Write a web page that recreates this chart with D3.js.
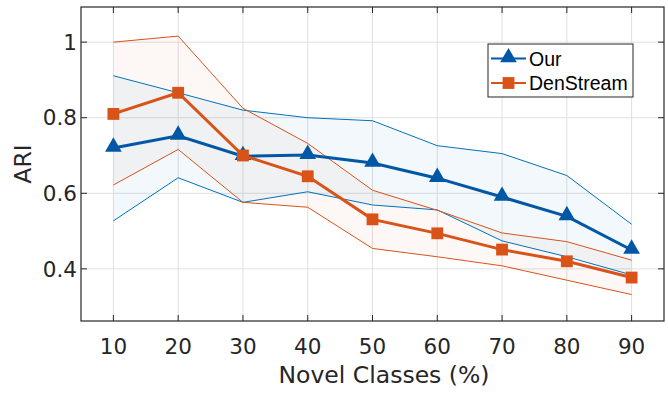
<!DOCTYPE html>
<html>
<head>
<meta charset="utf-8">
<script src="https://cdn.jsdelivr.net/npm/d3@7"></script>
<style>
  body { margin: 0; background: #fff; }
  svg text { fill: #262626; }
</style>
</head>
<body>
<div id="chart"></div>
<script>
// data
const classes = [10, 20, 30, 40, 50, 60, 70, 80, 90];
const ourMean = [0.720, 0.752, 0.698, 0.701, 0.680, 0.640, 0.590, 0.539, 0.450];
const ourUpper = [0.911, 0.866, 0.820, 0.800, 0.792, 0.726, 0.705, 0.647, 0.518];
const ourLower = [0.527, 0.641, 0.576, 0.604, 0.569, 0.556, 0.474, 0.432, 0.384];
const denMean = [0.810, 0.866, 0.700, 0.645, 0.531, 0.494, 0.451, 0.420, 0.377];
const denUpper = [1.000, 1.016, 0.825, 0.732, 0.608, 0.555, 0.495, 0.472, 0.423];
const denLower = [0.622, 0.716, 0.576, 0.563, 0.454, 0.432, 0.408, 0.370, 0.332];
const xTicks = [10, 20, 30, 40, 50, 60, 70, 80, 90];
const yTicks = [0.4, 0.6, 0.8, 1];

const W = 668, H = 393;
const margin = {top: 7, right: 4, bottom: 72, left: 81};
const width = W - margin.left - margin.right,
	height = H - margin.top - margin.bottom;

const svg = d3.select("#chart").append("svg")
	.attr("width", W).attr("height", H);
const g = svg.append("g")
	.attr("transform", "translate(" + margin.left + "," + margin.top + ")");

const x = d3.scaleLinear().domain([5, 95]).range([0, width]);
const y = d3.scaleLinear().domain([0.262, 1.093]).range([height, 0]);

const blue = "#0072BD", blueDark = "#0057A6", orange = "#D95319";

// grid
g.append("g").selectAll("line").data(xTicks).join("line")
	.attr("x1", d => x(d)).attr("x2", d => x(d))
	.attr("y1", 0).attr("y2", height)
	.attr("stroke", "#e0e0e0").attr("stroke-width", 1);
g.append("g").selectAll("line").data(yTicks).join("line")
	.attr("y1", d => y(d)).attr("y2", d => y(d))
	.attr("x1", 0).attr("x2", width)
	.attr("stroke", "#e0e0e0").attr("stroke-width", 1);

const band = (up, lo) => d3.area()
	.x((d, i) => x(classes[i]))
	.y0((d, i) => y(lo[i]))
	.y1((d, i) => y(up[i]));
const line = d3.line().x((d, i) => x(classes[i])).y(d => y(d));

// shaded ranges
g.append("path").datum(ourUpper).attr("d", band(ourUpper, ourLower))
	.attr("fill", blue).attr("fill-opacity", 0.05);
g.append("path").datum(denUpper).attr("d", band(denUpper, denLower))
	.attr("fill", orange).attr("fill-opacity", 0.045);

// bound lines
[[ourUpper, blue], [ourLower, blue], [denUpper, orange], [denLower, orange]].forEach(function(s) {
	g.append("path").datum(s[0]).attr("d", line)
		.attr("fill", "none").attr("stroke", s[1]).attr("stroke-width", 1);
});

// mean lines + markers
const tri = d3.symbol().type(d3.symbolTriangle).size(120);
const sq = d3.symbol().type(d3.symbolSquare).size(140);

g.append("path").datum(ourMean).attr("d", line)
	.attr("fill", "none").attr("stroke", blueDark).attr("stroke-width", 3);
g.append("g").selectAll("path").data(ourMean).join("path")
	.attr("d", tri)
	.attr("transform", (d, i) => "translate(" + x(classes[i]) + "," + (y(d) - 1) + ")")
	.attr("fill", blueDark);

g.append("path").datum(denMean).attr("d", line)
	.attr("fill", "none").attr("stroke", orange).attr("stroke-width", 3);
g.append("g").selectAll("path").data(denMean).join("path")
	.attr("d", sq)
	.attr("transform", (d, i) => "translate(" + x(classes[i]) + "," + y(d) + ")")
	.attr("fill", orange);

// axes box
g.append("rect").attr("width", width).attr("height", height)
	.attr("fill", "none").attr("stroke", "#262626").attr("stroke-width", 1.2);

const tickLen = 6;
const xt = g.append("g").selectAll("g").data(xTicks).join("g");
xt.append("line").attr("x1", d => x(d)).attr("x2", d => x(d))
	.attr("y1", height).attr("y2", height - tickLen).attr("stroke", "#262626");
xt.append("line").attr("x1", d => x(d)).attr("x2", d => x(d))
	.attr("y1", 0).attr("y2", tickLen).attr("stroke", "#262626");
xt.append("text").attr("x", d => x(d)).attr("y", height + 33)
	.attr("text-anchor", "middle")
	.style("font-family", "DejaVu Sans").style("font-size", "21.5px")
	.text(d => d);

const yt = g.append("g").selectAll("g").data(yTicks).join("g");
yt.append("line").attr("y1", d => y(d)).attr("y2", d => y(d))
	.attr("x1", 0).attr("x2", tickLen).attr("stroke", "#262626");
yt.append("line").attr("y1", d => y(d)).attr("y2", d => y(d))
	.attr("x1", width).attr("x2", width - tickLen).attr("stroke", "#262626");
yt.append("text").attr("x", -4).attr("y", d => y(d)).attr("dy", "0.36em")
	.attr("text-anchor", "end")
	.style("font-family", "DejaVu Sans").style("font-size", "21.5px")
	.text(d => d3.format("")(d));

// axis labels
svg.append("text").attr("x", 384).attr("y", 383)
	.attr("text-anchor", "middle")
	.style("font-family", "DejaVu Sans").style("font-size", "23.5px")
	.text("Novel Classes (%)");
svg.append("text")
	.attr("transform", "translate(31,164) rotate(-90)")
	.attr("text-anchor", "middle")
	.style("font-family", "DejaVu Sans").style("font-size", "23.5px")
	.text("ARI");

// legend
const lg = svg.append("g").attr("transform", "translate(488,44)");
lg.append("rect").attr("width", 145).attr("height", 53)
	.attr("fill", "#fff").attr("stroke", "#262626").attr("stroke-width", 1);
const items = [
	{name: "Our", color: blueDark, sym: tri, dy: 14.5},
	{name: "DenStream", color: orange, sym: sq, dy: 39}
];
items.forEach(function(it) {
	lg.append("line").attr("x1", 3).attr("x2", 38).attr("y1", it.dy).attr("y2", it.dy)
		.attr("stroke", it.color).attr("stroke-width", 2);
	lg.append("path").attr("d", it.sym)
		.attr("transform", "translate(20.5," + (it.dy - (it.sym === tri ? 1 : 0)) + ")")
		.attr("fill", it.color);
	lg.append("text").attr("x", 41).attr("y", it.dy).attr("dy", "0.36em")
		.style("font-family", "Liberation Sans").style("font-size", "19.5px")
		.style("fill", "#000")
		.text(it.name);
});
</script>
</body>
</html>
